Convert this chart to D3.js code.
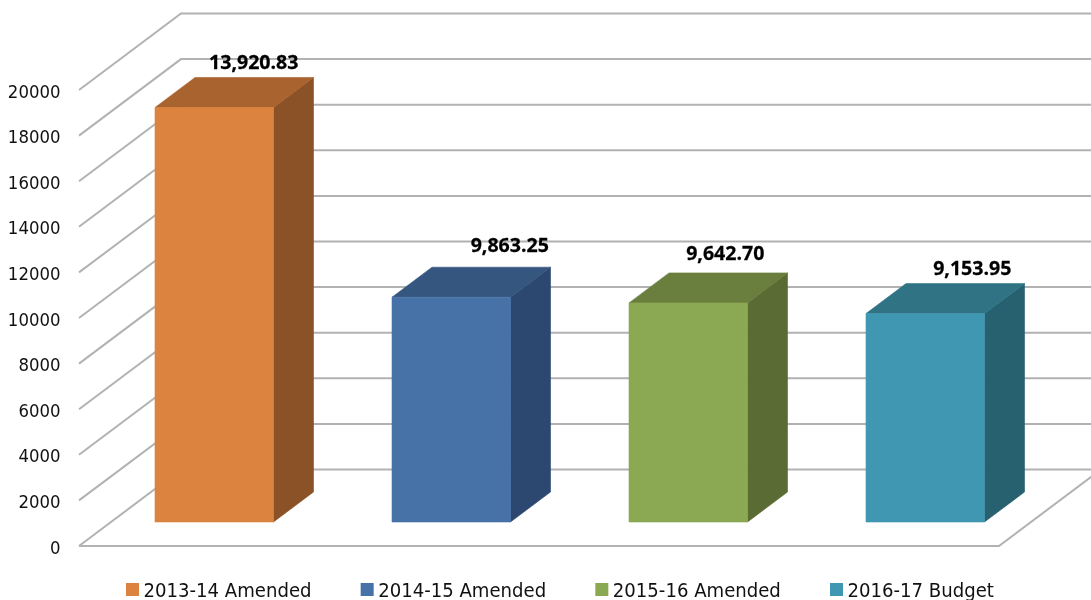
<!DOCTYPE html>
<html><head><meta charset="utf-8">
<script src="https://cdnjs.cloudflare.com/ajax/libs/d3/7.8.5/d3.min.js"></script>
<style>html,body{margin:0;padding:0;background:#fff;overflow:hidden}svg{display:block;filter:blur(0.4px)}</style>
</head><body><svg id="c" width="1091" height="600"></svg>
<script>
const categories = ["2013-14 Amended","2014-15 Amended","2015-16 Amended","2016-17 Budget"];
const drawnValues = [18180, 9860, 9610, 9140];
const valueLabels = ["13,920.83","9,863.25","9,642.70","9,153.95"];
const tickValues = [0,2000,4000,6000,8000,10000,12000,14000,16000,18000,20000];
const frontColors = ["#db833f","#4672a8","#8ba852","#4097b1"];
const topColors = ["#a9632f","#35567f","#6a7f3d","#2f7385"];
const sideColors = ["#8a5226","#2c4870","#5a6b33","#276170"];

const W=1091, xL=79, xR=999;
const wallDx=102, wallDy=-76.5, barDx=40, barDy=-30, baseLift=24;
const labelNudge = [[19.5,-8],[38.5,-15],[17,-12.5],[27,-8.5]];

const svg = d3.select("#c");
const y = d3.scaleLinear().domain([0,20000]).range([546,90]);
const x = d3.scaleBand().domain(categories).range([95.75,1043.75]).paddingInner(0.5).paddingOuter(0.25);
const legendX = d3.scalePoint().domain(categories).range([126,830]);

const grid = svg.append("g").attr("fill","none").attr("stroke","#b2b2b2").attr("stroke-width",2);
tickValues.forEach(t=>{
  const p = d3.path();
  p.moveTo(xL,y(t)); p.lineTo(xL+wallDx,y(t)+wallDy); p.lineTo(W,y(t)+wallDy);
  grid.append("path").attr("d",p);
});
const fl=d3.path(); fl.moveTo(xL,y(0)); fl.lineTo(xR,y(0)); fl.lineTo(xR+wallDx,y(0)+wallDy);
grid.append("path").attr("d",fl);

svg.append("g").selectAll("text").data(tickValues).join("text")
  .attr("transform",d=>`translate(60.5,${y(d)+7.5}) scale(0.92,1)`).attr("text-anchor","end")
  .attr("font-family","DejaVu Sans").attr("font-size",18).attr("fill","#111").text(d=>d);

const bars=svg.append("g");
categories.forEach((c,i)=>{
  const x0=x(c), x1=x0+x.bandwidth(), base=y(0)-baseLift;
  const top=base-(y(0)-y(drawnValues[i]));
  const g=bars.append("g");
  const poly=(pts,col)=>g.append("polygon").attr("points",pts.map(p=>p.join(",")).join(" ")).attr("fill",col).attr("stroke",col).attr("stroke-width",0.6).attr("stroke-linejoin","round");
  poly([[x1,top],[x1+barDx,top+barDy],[x1+barDx,base+barDy],[x1,base]],sideColors[i]);
  poly([[x0,top],[x0+barDx,top+barDy],[x1+barDx,top+barDy],[x1,top]],topColors[i]);
  poly([[x0,top],[x1,top],[x1,base],[x0,base]],frontColors[i]);
  g.append("text")
   .attr("transform",`translate(${(x0+x1)/2+barDx/2+labelNudge[i][0]},${top+barDy+labelNudge[i][1]}) scale(1.03,1)`)
   .attr("text-anchor","middle").attr("font-family","Open Sans").attr("font-weight",700)
   .attr("font-size",19).attr("fill","#000").attr("stroke","#000").attr("stroke-width",0.25).text(valueLabels[i]);
});

const leg=svg.append("g");
categories.forEach((c,i)=>{
  const lx=legendX(c);
  leg.append("rect").attr("x",lx).attr("y",583).attr("width",13).attr("height",13).attr("fill",frontColors[i]);
  leg.append("text").attr("transform",`translate(${lx+17.5},597) scale(0.905,1)`)
    .attr("font-family","DejaVu Sans").attr("font-size",20).attr("fill","#111").text(c);
});
</script></body></html>
